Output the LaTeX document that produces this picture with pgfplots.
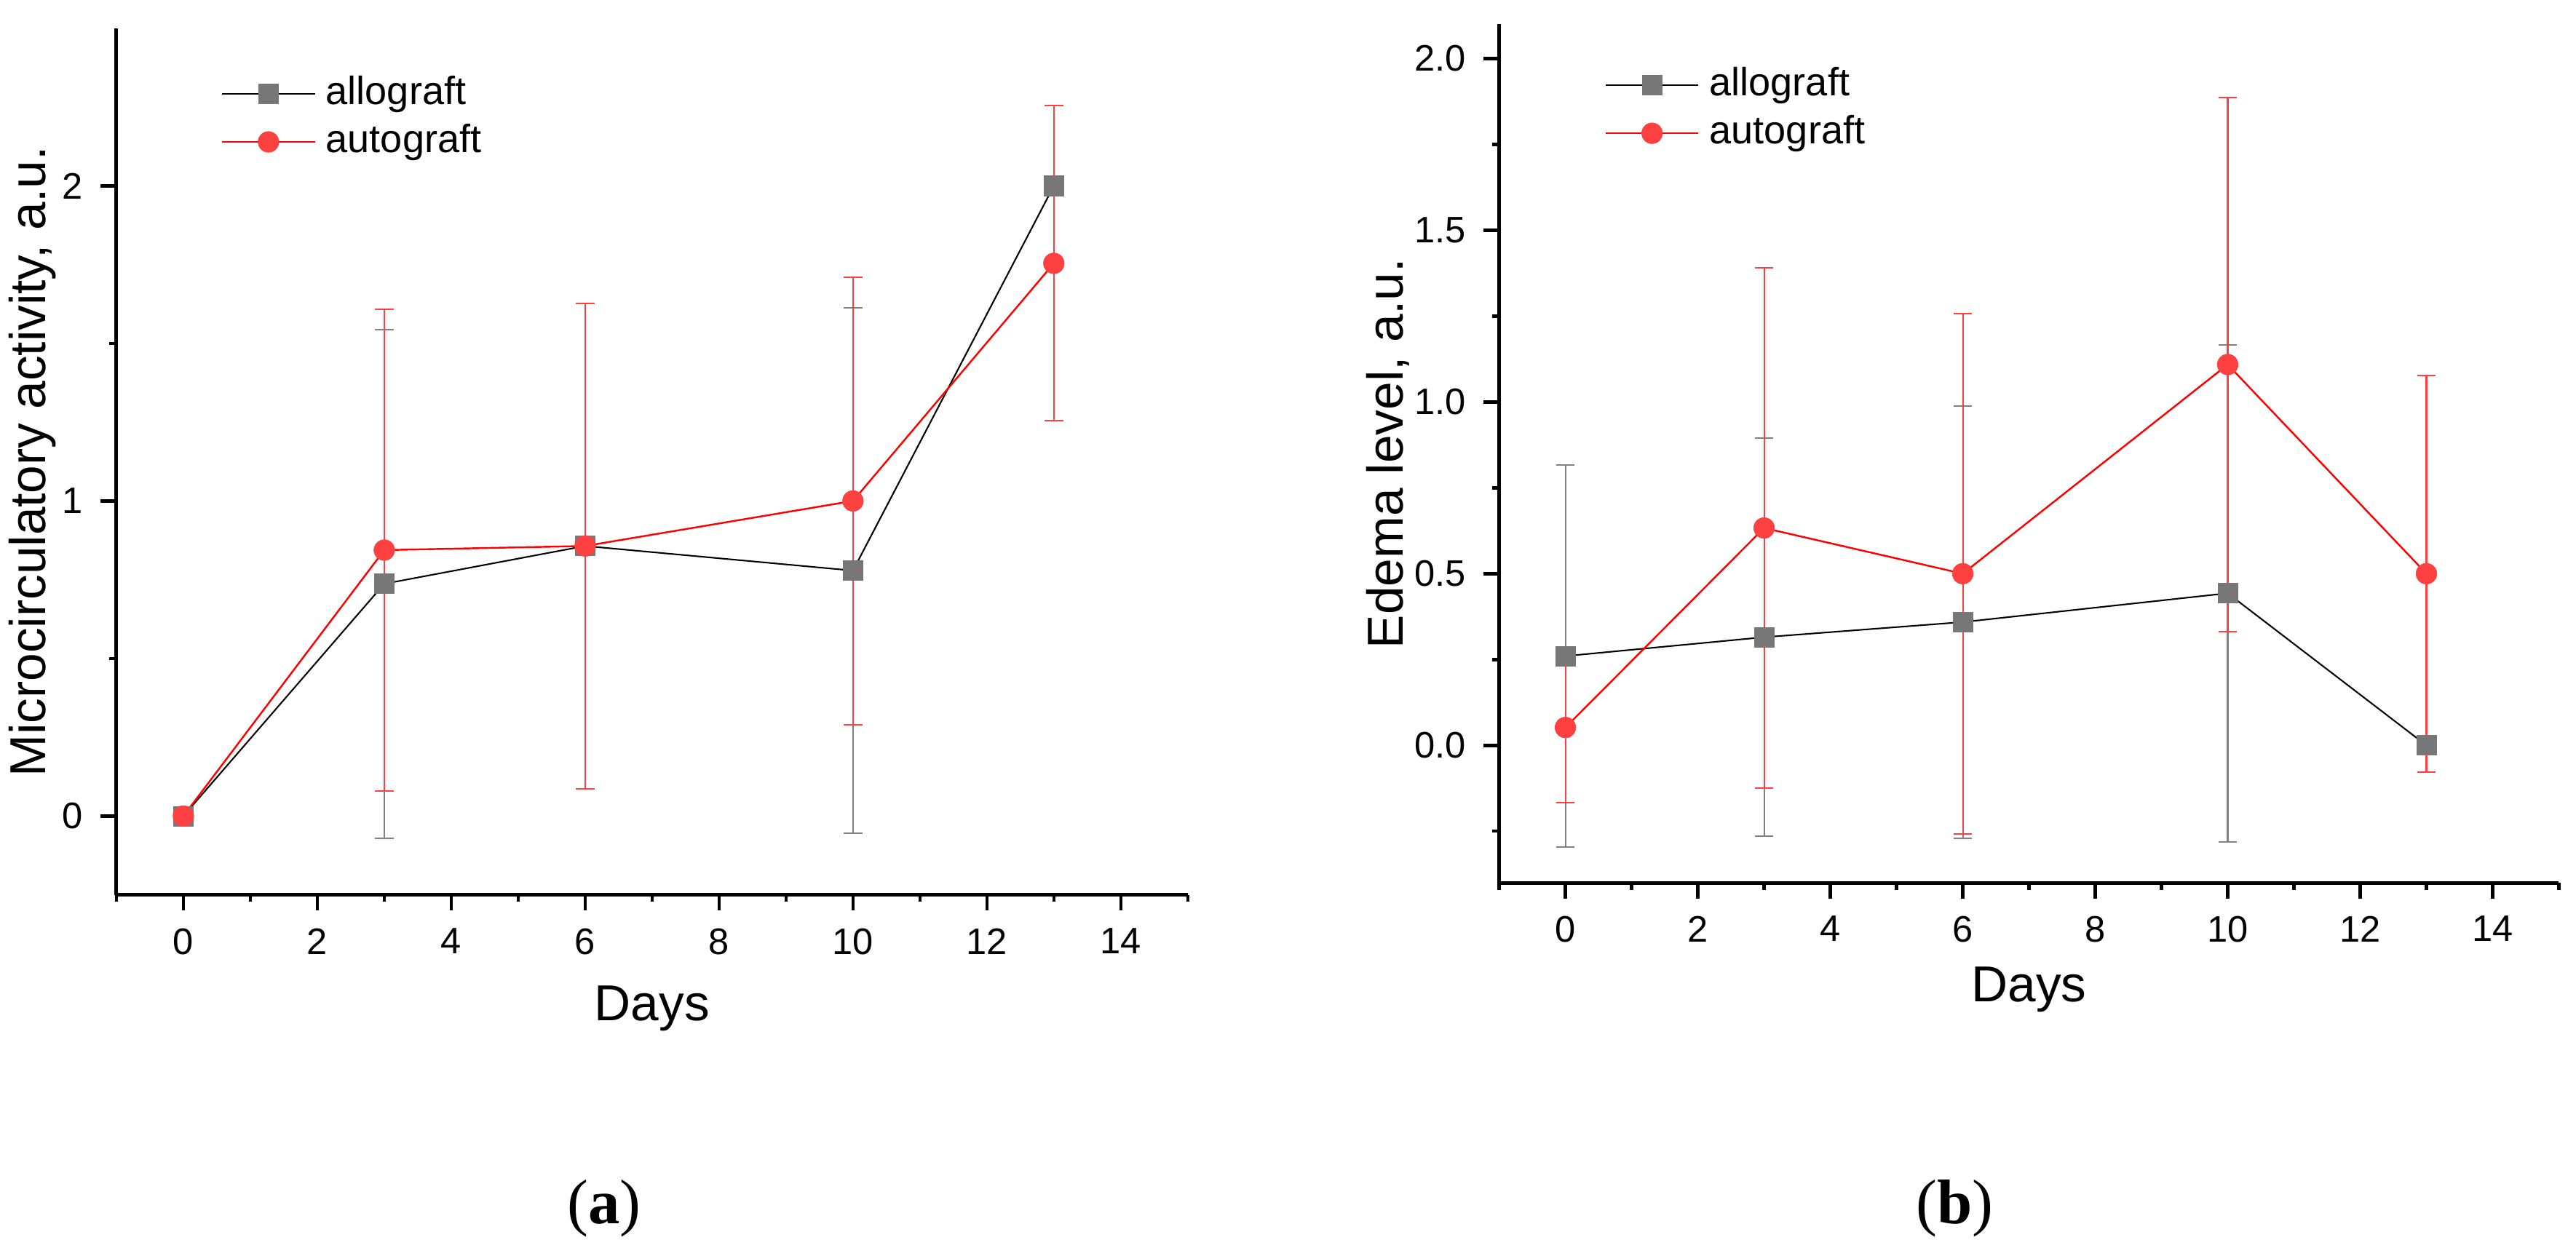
\documentclass[border=0pt]{standalone}
\usepackage{fontspec}
\setmainfont{Liberation Sans}
\newfontfamily\capfont{Liberation Serif}
\usepackage{pgfplots}
\usepackage{pgfplotstable}
\pgfplotsset{compat=1.18}
\definecolor{allo}{HTML}{777777}
\definecolor{allobar}{HTML}{808080}
\definecolor{automk}{HTML}{FF4040}
\definecolor{autoln}{HTML}{FF0000}

% panel (a)
\pgfplotstableread{
x y e
0 0 0
3 0.737 0.807
6 0.857 0.77
10 0.779 0.833
13 2.0 0
}\alloA
\pgfplotstableread{
x y e
0 0 0
3 0.844 0.765
6 0.857 0.77
10 1.0 0.71
13 1.754 0.5
}\autoA
% panel (b)
\pgfplotstableread{
x y e
0 0.26 0.557
3 0.315 0.58
6 0.359 0.63
10 0.443 0.724
13 0.0 0
}\alloB
\pgfplotstableread{
x y e
0 0.052 0.218
3 0.633 0.758
6 0.5 0.758
10 1.109 0.778
13 0.5 0.577
}\autoB

\pgfplotsset{
  panel/.style={
    scale only axis,
    anchor=south west,
    axis lines=left,
    axis line style={-, line width=0.72pt},
    tick align=outside,
    major tick length=3.1pt,
    minor tick length=1.4pt,
    every tick/.style={black, line width=0.65pt},
    xmin=-1, xmax=15,
    xtick={0,2,...,14},
    minor xtick={-1,1,...,15},
    tick label style={font=\fontsize{7.3}{8.8}\selectfont},
    /pgf/number format/assume math mode=true,
    label style={font=\fontsize{8.8}{10.6}\selectfont},
    every axis y label/.style={at={(axis description cs:0,0.5)}, xshift=-14pt, rotate=90, anchor=base},
    xlabel={Days},
    legend style={draw=none, fill=none, inner sep=0pt, outer sep=0pt,
      font=\fontsize{7.8}{9.4}\selectfont, anchor=north west, row sep=-1.6pt},
    legend cell align=left,
    legend image code/.code={\draw[mark repeat=2,mark phase=2,##1] plot coordinates {(0pt,0pt)(9.2pt,0pt)(18.4pt,0pt)};},
  },
  alloplot/.style={black, line width=0.3pt, mark=square*, mark size=1.95pt,
    mark options={draw=allo, fill=allo, line width=0.1pt},
    error bars/.cd, y dir=both, y explicit,
    error bar style={allobar, line width=0.3pt},
    error mark options={allobar, rotate=90, mark size=1.85pt, line width=0.3pt}},
  autoplot/.style={autoln, line width=0.35pt, mark=*, mark size=2.05pt,
    mark options={draw=automk, fill=automk, line width=0.1pt},
    error bars/.cd, y dir=both, y explicit,
    error bar style={automk, line width=0.3pt},
    error mark options={automk, rotate=90, mark size=1.85pt, line width=0.3pt}},
}

\begin{document}
\begin{tikzpicture}
\useasboundingbox (0,0) rectangle (510pt,247.1pt);

\begin{axis}[panel, at={(23.05pt,69.9pt)}, width=212.1pt, height=171.6pt,
  ymin=-0.25, ymax=2.5, ytick={0,1,2}, minor ytick={0.5,1.5},
  ylabel={Microcirculatory activity, a.u.},
  every axis x label/.style={at={(axis description cs:0.5,0)}, anchor=base, yshift=-24.9pt},
  legend style={at={(axis description cs:0.0977,0.957)}}]
\addplot[alloplot] table[x=x, y=y, y error=e] {\alloA};
\addlegendentry{allograft}
\addplot[autoplot] table[x=x, y=y, y error=e] {\autoA};
\addlegendentry{autograft}
\end{axis}

\begin{axis}[panel, at={(296.8pt,72.3pt)}, width=209.8pt, height=170pt,
  ymin=-0.4, ymax=2.1, ytick={0,0.5,1,1.5,2}, yticklabels={0.0,0.5,1.0,1.5,2.0},
  minor ytick={-0.25,0.25,0.75,1.25,1.75},
  every axis y label/.style={at={(axis description cs:0,0.5)}, xshift=-19pt, rotate=90, anchor=base},
  ylabel={Edema level, a.u.},
  every axis x label/.style={at={(axis description cs:0.5,0)}, anchor=base, yshift=-23.5pt},
  legend style={at={(axis description cs:0.0996,0.962)}}]
\addplot[alloplot] table[x=x, y=y, y error=e] {\alloB};
\addlegendentry{allograft}
\addplot[autoplot] table[x=x, y=y, y error=e] {\autoB};
\addlegendentry{autograft}
\end{axis}

\node[anchor=base, font=\capfont\fontsize{12.5}{14}\selectfont] at (119.6pt,4.8pt) {(\textbf{a})};
\node[anchor=base, font=\capfont\fontsize{12.5}{14}\selectfont] at (387pt,4.8pt) {(\textbf{b})};
\end{tikzpicture}
\end{document}
